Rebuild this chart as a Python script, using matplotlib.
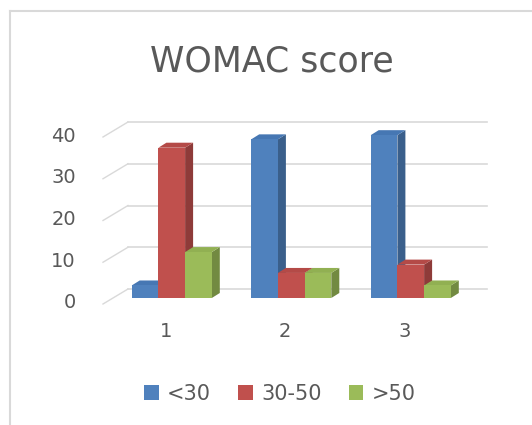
import matplotlib
matplotlib.use("Agg")
import matplotlib.pyplot as plt
from matplotlib.patches import Polygon, Rectangle
from matplotlib.lines import Line2D
from matplotlib.transforms import ScaledTranslation

# data
groups = ["1", "2", "3"]
series = ["<30", "30-50", ">50"]
lt30 = [3, 38, 39]
mid = [36, 6, 8]
gt50 = [11, 6, 3]
yticks = [0, 10, 20, 30, 40]
values = [lt30, mid, gt50]

# colours: front / side / top of each bar
front = ["#4F81BD", "#C0504D", "#9BBB59"]
side = ["#3A5F8B", "#8E3B39", "#728A41"]
top = ["#4677B3", "#B44A47", "#91B052"]
grid_c = "#D9D9D9"
text_c = "#595959"

W, H = 532, 425
fig = plt.figure(figsize=(W / 100, H / 100), dpi=100)
ax = fig.add_axes([112 / W, 1 - 298 / H, 358.5 / W, 167 / H])
ax.set_xlim(0.5, 3.5)
ax.set_ylim(0, 40)
for s in ax.spines.values():
    s.set_visible(False)

# pixels per data unit
ppx = ax.bbox.width / 3
ppy = ax.bbox.height / 40

# back wall gridlines + slanted floor lines on the left
for v in yticks:
    ax.plot([0.5 + 16 / ppx, 3.5 + 16 / ppx], [v + 9 / ppy, v + 9 / ppy],
            color=grid_c, lw=1.2, clip_on=False, zorder=0)
    ax.plot([0.5 - 9 / ppx, 0.5 + 16 / ppx], [v - 6 / ppy, v + 9 / ppy],
            color=grid_c, lw=1.0, clip_on=False, zorder=0)

# 3d-ish bars
w = 26.7 / ppx
dx = 8 / ppx
dy = 5 / ppy
z = 2
for i in range(len(groups)):
    for k in range(len(series)):
        x0 = (i + 1) + (k - 1.5) * w
        x1 = x0 + w
        v = values[k][i]
        ax.add_patch(Polygon([(x1, 0), (x1 + dx, dy), (x1 + dx, v + dy), (x1, v)],
                             closed=True, fc=side[k], ec="none", zorder=z, clip_on=False))
        ax.add_patch(Polygon([(x0, v), (x1, v), (x1 + dx, v + dy), (x0 + dx, v + dy)],
                             closed=True, fc=top[k], ec="none", zorder=z, clip_on=False))
        ax.bar(x0, v, width=w, align="edge", color=front[k], zorder=z + 0.5, clip_on=False)
        z += 1

# ticks
ax.set_yticks(yticks)
ax.tick_params(axis="y", length=0, pad=26, labelsize=14, labelcolor=text_c)
for lab in ax.get_yticklabels():
    lab.set_transform(lab.get_transform() + ScaledTranslation(0, -3 / 100, fig.dpi_scale_trans))
ax.set_xticks([1, 2, 3], groups)
ax.tick_params(axis="x", length=0, pad=17, labelsize=14, labelcolor=text_c)
for lab in ax.get_xticklabels():
    lab.set_transform(lab.get_transform() + ScaledTranslation(-6 / 100, 0, fig.dpi_scale_trans))

# title
fig.text(272 / W, 1 - 62 / H, "WOMAC score", ha="center", va="center",
         fontsize=25, color=text_c)

# legend
handles = [Rectangle((0, 0), 1, 1, fc=c, ec="none") for c in front]
fig.legend(handles, series, loc="center", bbox_to_anchor=(280 / W, 1 - 394 / H),
           ncol=3, frameon=False, fontsize=15, handlelength=0.7, handleheight=0.7,
           handletextpad=0.4, columnspacing=1.3, labelcolor=text_c)

# chart area border (left and top edges)
fig.add_artist(Line2D([10 / W, 10 / W], [0, 1 - 11 / H], color=grid_c, lw=1.5))
fig.add_artist(Line2D([10 / W, 1], [1 - 11 / H, 1 - 11 / H], color=grid_c, lw=1.5))

fig.savefig("out.png", dpi=100)
